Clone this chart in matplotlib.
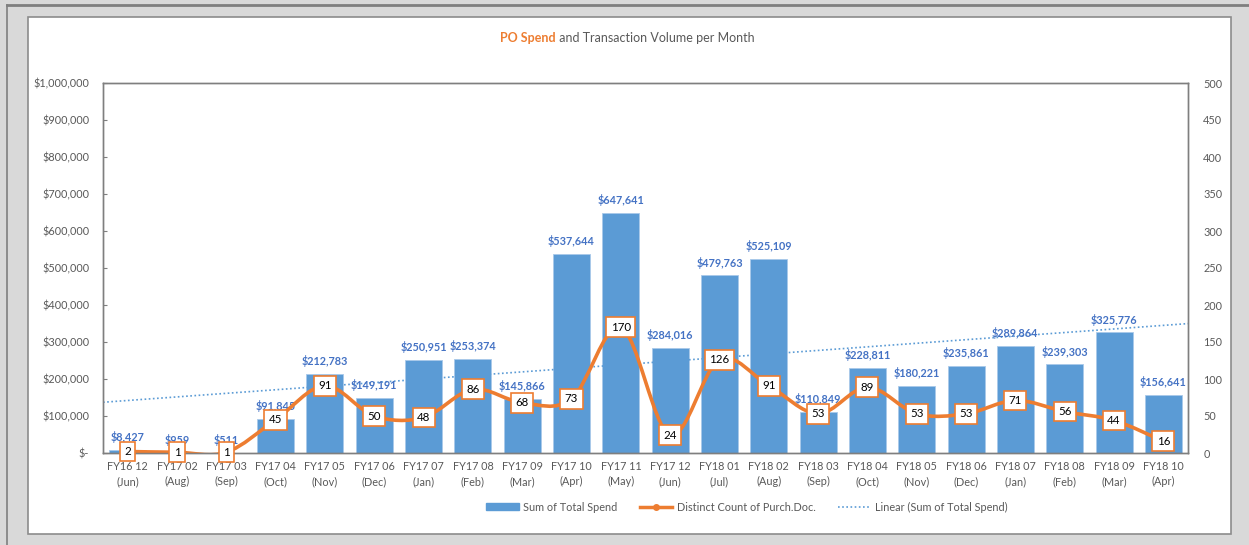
import numpy as np
import matplotlib.pyplot as plt
from matplotlib.path import Path
from matplotlib.patches import PathPatch, Rectangle, Patch
from matplotlib.lines import Line2D
from matplotlib.ticker import FuncFormatter

months = ["FY16 12\n(Jun)", "FY17 02\n(Aug)", "FY17 03\n(Sep)", "FY17 04\n(Oct)", "FY17 05\n(Nov)",
          "FY17 06\n(Dec)", "FY17 07\n(Jan)", "FY17 08\n(Feb)", "FY17 09\n(Mar)", "FY17 10\n(Apr)",
          "FY17 11\n(May)", "FY17 12\n(Jun)", "FY18 01\n(Jul)", "FY18 02\n(Aug)", "FY18 03\n(Sep)",
          "FY18 04\n(Oct)", "FY18 05\n(Nov)", "FY18 06\n(Dec)", "FY18 07\n(Jan)", "FY18 08\n(Feb)",
          "FY18 09\n(Mar)", "FY18 10\n(Apr)"]
spend = [8427, 959, 511, 91845, 212783, 149191, 250951, 253374, 145866, 537644, 647641,
         284016, 479763, 525109, 110849, 228811, 180221, 235861, 289864, 239303, 325776, 156641]
counts = [2, 1, 1, 45, 91, 50, 48, 86, 68, 73, 170, 24, 126, 91, 53, 89, 53, 53, 71, 56, 44, 16]

BLUE = "#5b9bd5"
LABEL_BLUE = "#4472c4"
ORANGE = "#ed7d31"
GREY = "#595959"

plt.rcParams['font.family'] = ['Lato', 'DejaVu Sans']

W, H = 1249, 545
fig = plt.figure(figsize=(W / 100, H / 100), dpi=100)
fig.patch.set_facecolor("#d9d9d9")

# window frame + white chart area
fig.add_artist(Line2D([7 / W, 1], [1 - 5 / H, 1 - 5 / H], color="#7f7f7f", lw=2))
fig.add_artist(Line2D([7 / W, 7 / W], [0, 1 - 5 / H], color="#7f7f7f", lw=1.2))
fig.add_artist(Rectangle((28 / W, 11 / H), (1231 - 28) / W, (528 - 11) / H,
                         facecolor="white", edgecolor="#8c8c8c", lw=1.2,
                         transform=fig.transFigure, zorder=0))

ax = fig.add_axes([103 / W, 1 - 453 / H, (1188 - 103) / W, (453 - 83) / H])
ax2 = ax.twinx()
ax.set_zorder(1)
ax2.set_zorder(2)
ax.patch.set_visible(False)
ax2.patch.set_visible(False)

x = np.arange(len(months))
ax.bar(x, spend, width=0.75, color=BLUE, edgecolor="#a9c9ea", linewidth=0.6, zorder=2)
ax.set_xlim(-0.5, len(months) - 0.5)
ax.set_ylim(0, 1000000)
ax.set_yticks(np.arange(0, 1000001, 100000))
ax.yaxis.set_major_formatter(FuncFormatter(lambda v, p: "$-" if v == 0 else f"${v:,.0f}"))
ax.set_xticks(x)
ax.set_xticklabels(months, fontsize=7.8, color=GREY, linespacing=1.45)
ax.tick_params(axis='x', length=0, pad=6)
ax.tick_params(axis='y', direction='in', length=3, labelsize=7.8, labelcolor=GREY,
               color="#7f7f7f", pad=10)

for xi, v in zip(x, spend):
    ax.annotate(f"${v:,}", (xi, v), xytext=(0, 5), textcoords="offset points",
                ha="center", va="bottom", fontsize=7.8, fontweight="bold",
                color=LABEL_BLUE, zorder=3)

# linear trendline of spend
k, b = np.polyfit(x + 1, spend, 1)
tx = np.array([-0.5, len(months) - 0.5])
ax.plot(tx, k * (tx + 1) + b, color=BLUE, ls=(0, (1, 1.5)), lw=1.2, zorder=2.5)

# smoothed count line
ax2.set_ylim(0, 500)
ax2.set_yticks(np.arange(0, 501, 50))
ax2.tick_params(axis='y', length=0, labelsize=7.8, labelcolor=GREY, pad=11)
pts = np.column_stack([x, counts]).astype(float)
verts = [pts[0]]
codes = [Path.MOVETO]
n = len(pts)
for i in range(n - 1):
    p0 = pts[max(i - 1, 0)]
    p1 = pts[i]
    p2 = pts[i + 1]
    p3 = pts[min(i + 2, n - 1)]
    verts += [p1 + (p2 - p0) / 6, p2 - (p3 - p1) / 6, p2]
    codes += [Path.CURVE4] * 3
ax2.add_patch(PathPatch(Path(verts, codes), facecolor="none", edgecolor=ORANGE, lw=2.6,
                        capstyle="round", joinstyle="round"))
for xi, c in zip(x, counts):
    ax2.text(xi, c, str(c), ha="center", va="center", fontsize=8.3, color="black",
             bbox=dict(boxstyle="square,pad=0.38", fc="white", ec=ORANGE, lw=1.2))

for a in (ax, ax2):
    for s in a.spines.values():
        s.set_color("#7f7f7f")
        s.set_linewidth(1)

# title
t1 = fig.text(556 / W, 1 - 38 / H, "PO Spend", ha="right", va="center", fontsize=9,
              fontweight="bold", color=ORANGE)
ax.annotate(" and Transaction Volume per Month", xy=(1, 0.5), xycoords=t1,
            ha="left", va="center", fontsize=9, color=GREY, annotation_clip=False)

handles = [Patch(facecolor=BLUE, edgecolor=BLUE),
           Line2D([], [], color=ORANGE, lw=2.5, marker="o", markersize=4),
           Line2D([], [], color=BLUE, ls=(0, (1, 1.5)), lw=1.2)]
labels = ["Sum of Total Spend", "Distinct Count of Purch.Doc.", "Linear (Sum of Total Spend)"]
fig.legend(handles, labels, loc="center", bbox_to_anchor=(747 / W, 1 - 507 / H), ncol=3,
           frameon=False, fontsize=7.8, labelcolor=GREY, handlelength=3.0,
           handleheight=0.6, handletextpad=0.4, columnspacing=2.1)

fig.savefig("out.png", dpi=100, facecolor=fig.get_facecolor())
